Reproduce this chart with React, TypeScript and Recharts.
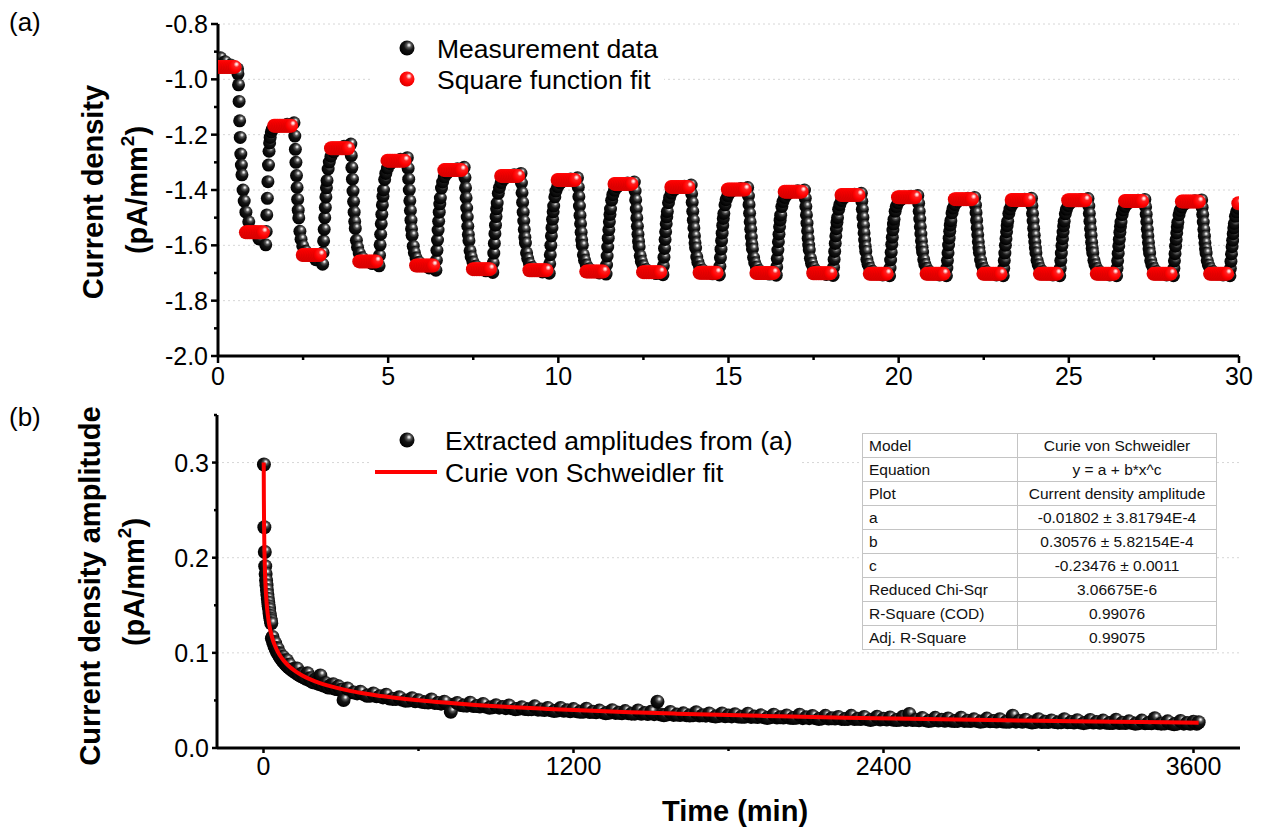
import React from "react";
import { CartesianGrid, ComposedChart, Scatter, XAxis, YAxis } from "recharts";

const FONT = "'Liberation Sans', Arial, Helvetica, sans-serif";

// ---------- panel (a): current density, square-wave excitation ----------
// start of every half period (min); the first one begins before t = 0
const segmentStart = [
  -0.26, 0.57, 1.4, 2.24, 3.07, 3.9, 4.73, 5.57, 6.4, 7.24, 8.07, 8.9, 9.73, 10.57, 11.4, 12.24, 13.07, 13.9, 14.73,
  15.57, 16.4, 17.24, 18.07, 18.9, 19.73, 20.57, 21.4, 22.24, 23.07, 23.9, 24.73, 25.57, 26.4, 27.24, 28.07, 28.9, 29.73,
];
// sample times inside a half period (s)
const sampleOffsets = [1, 2, 3, 4, 5, 6, 7, 8, 10, 12, 15, 20, 28, 38, 50];
// measured current density (pA/mm2), one row per half period
const measured: (number | null)[][] = [
  [null, null, null, null, null, null, null, null, null, null, null, -0.922, -0.936, -0.948, -0.962],
  [-0.98, -1.02, -1.08, -1.15, -1.21, -1.27, -1.31, -1.345, -1.4, -1.44, -1.48, -1.515, -1.55, -1.577, -1.598],
  [-1.55, -1.49, -1.43, -1.37, -1.31, -1.26, -1.23, -1.21, -1.19, -1.18, -1.174, -1.17, -1.167, -1.162, -1.157],
  [-1.205, -1.253, -1.3, -1.348, -1.391, -1.434, -1.473, -1.501, -1.549, -1.578, -1.602, -1.621, -1.635, -1.652, -1.668],
  [-1.626, -1.584, -1.542, -1.5, -1.463, -1.425, -1.392, -1.366, -1.324, -1.299, -1.278, -1.262, -1.249, -1.242, -1.234],
  [-1.276, -1.319, -1.361, -1.404, -1.442, -1.48, -1.514, -1.539, -1.582, -1.607, -1.628, -1.645, -1.658, -1.666, -1.674],
  [-1.636, -1.598, -1.56, -1.522, -1.488, -1.454, -1.423, -1.4, -1.362, -1.34, -1.321, -1.305, -1.294, -1.289, -1.283],
  [-1.322, -1.361, -1.4, -1.439, -1.474, -1.509, -1.54, -1.564, -1.603, -1.626, -1.646, -1.661, -1.673, -1.682, -1.69],
  [-1.654, -1.618, -1.581, -1.545, -1.513, -1.48, -1.451, -1.429, -1.393, -1.371, -1.353, -1.339, -1.328, -1.323, -1.318],
  [-1.355, -1.392, -1.428, -1.465, -1.498, -1.531, -1.561, -1.583, -1.62, -1.642, -1.66, -1.675, -1.686, -1.692, -1.698],
  [-1.663, -1.628, -1.593, -1.558, -1.527, -1.496, -1.468, -1.447, -1.412, -1.391, -1.373, -1.36, -1.349, -1.345, -1.34],
  [-1.375, -1.41, -1.445, -1.48, -1.512, -1.543, -1.571, -1.592, -1.627, -1.648, -1.666, -1.68, -1.69, -1.696, -1.701],
  [-1.667, -1.634, -1.6, -1.566, -1.536, -1.506, -1.479, -1.458, -1.425, -1.404, -1.388, -1.374, -1.364, -1.36, -1.356],
  [-1.39, -1.424, -1.458, -1.492, -1.522, -1.553, -1.58, -1.6, -1.634, -1.654, -1.671, -1.685, -1.695, -1.7, -1.704],
  [-1.671, -1.639, -1.606, -1.574, -1.544, -1.515, -1.489, -1.469, -1.437, -1.417, -1.401, -1.388, -1.378, -1.375, -1.371],
  [-1.404, -1.436, -1.469, -1.501, -1.531, -1.56, -1.586, -1.606, -1.638, -1.658, -1.674, -1.687, -1.697, -1.702, -1.706],
  [-1.674, -1.643, -1.611, -1.579, -1.551, -1.522, -1.497, -1.478, -1.446, -1.427, -1.411, -1.399, -1.389, -1.386, -1.382],
  [-1.414, -1.445, -1.477, -1.509, -1.537, -1.566, -1.591, -1.61, -1.642, -1.661, -1.677, -1.689, -1.699, -1.703, -1.707],
  [-1.676, -1.645, -1.614, -1.583, -1.556, -1.528, -1.503, -1.485, -1.454, -1.435, -1.42, -1.407, -1.398, -1.395, -1.391],
  [-1.422, -1.453, -1.484, -1.515, -1.542, -1.57, -1.595, -1.613, -1.644, -1.663, -1.678, -1.691, -1.7, -1.704, -1.708],
  [-1.678, -1.648, -1.617, -1.587, -1.56, -1.533, -1.509, -1.491, -1.46, -1.442, -1.427, -1.415, -1.406, -1.403, -1.4],
  [-1.43, -1.46, -1.49, -1.52, -1.548, -1.575, -1.599, -1.617, -1.647, -1.665, -1.68, -1.692, -1.701, -1.705, -1.709],
  [-1.68, -1.651, -1.622, -1.593, -1.566, -1.54, -1.517, -1.5, -1.47, -1.453, -1.438, -1.427, -1.418, -1.415, -1.412],
  [-1.441, -1.47, -1.499, -1.528, -1.555, -1.581, -1.604, -1.622, -1.651, -1.668, -1.683, -1.694, -1.703, -1.707, -1.71],
  [-1.682, -1.653, -1.625, -1.596, -1.571, -1.545, -1.523, -1.506, -1.477, -1.46, -1.446, -1.435, -1.426, -1.423, -1.42],
  [-1.448, -1.477, -1.505, -1.533, -1.559, -1.584, -1.607, -1.624, -1.652, -1.669, -1.683, -1.695, -1.703, -1.707, -1.71],
  [-1.682, -1.655, -1.627, -1.599, -1.574, -1.549, -1.527, -1.511, -1.483, -1.466, -1.452, -1.441, -1.433, -1.43, -1.427],
  [-1.455, -1.482, -1.51, -1.537, -1.562, -1.587, -1.609, -1.626, -1.653, -1.67, -1.684, -1.695, -1.703, -1.707, -1.71],
  [-1.683, -1.655, -1.628, -1.6, -1.576, -1.551, -1.529, -1.513, -1.485, -1.469, -1.455, -1.444, -1.436, -1.433, -1.43],
  [-1.457, -1.485, -1.512, -1.539, -1.564, -1.588, -1.61, -1.627, -1.654, -1.67, -1.684, -1.695, -1.703, -1.707, -1.71],
  [-1.683, -1.655, -1.628, -1.601, -1.576, -1.552, -1.53, -1.513, -1.486, -1.47, -1.456, -1.445, -1.437, -1.434, -1.431],
  [-1.458, -1.485, -1.513, -1.54, -1.564, -1.589, -1.611, -1.627, -1.654, -1.67, -1.684, -1.695, -1.703, -1.707, -1.71],
  [-1.683, -1.656, -1.629, -1.602, -1.578, -1.553, -1.532, -1.516, -1.489, -1.472, -1.459, -1.448, -1.44, -1.437, -1.434],
  [-1.461, -1.488, -1.515, -1.542, -1.566, -1.59, -1.612, -1.628, -1.655, -1.671, -1.684, -1.695, -1.703, -1.707, -1.71],
  [-1.683, -1.656, -1.63, -1.603, -1.579, -1.555, -1.533, -1.517, -1.49, -1.474, -1.461, -1.45, -1.442, -1.439, -1.436],
  [-1.463, -1.489, -1.516, -1.543, -1.567, -1.591, -1.612, -1.628, -1.655, -1.671, -1.684, -1.695, -1.703, -1.707, -1.71],
  [-1.684, -1.658, -1.631, -1.605, -1.582, -1.558, -1.537, -1.521, -1.495, -1.479, -1.466, null, null, null, null],
];
// square function fit: one level per half period, shown over its settled part
const fitOffsets = [15, 18, 21, 24, 27, 30, 33, 36, 39, 42, 45];
const fitLevels = [
  -0.955, -1.553, -1.168, -1.635, -1.249, -1.658, -1.294, -1.673, -1.328, -1.686, -1.349, -1.69, -1.364, -1.695, -1.378,
  -1.697, -1.389, -1.699, -1.398, -1.7, -1.406, -1.701, -1.418, -1.703, -1.426, -1.703, -1.433, -1.703, -1.436, -1.703,
  -1.437, -1.703, -1.44, -1.703, -1.442, -1.703, -1.448,
];
const xTicksA = [0, 2.5, 5, 7.5, 10, 12.5, 15, 17.5, 20, 22.5, 25, 27.5, 30];
const xMajorA = [0, 5, 10, 15, 20, 25, 30];
const yTicksA = [-2.0, -1.9, -1.8, -1.7, -1.6, -1.5, -1.4, -1.3, -1.2, -1.1, -1.0, -0.9, -0.8];
const yMajorA = [-2.0, -1.8, -1.6, -1.4, -1.2, -1.0, -0.8];

// ---------- panel (b): extracted amplitudes over 3600 min ----------
const amplitudes: [number, number][] = [
  [1.67, 0.298], [3.33, 0.232], [5, 0.206], [6.67, 0.191], [8.33, 0.183], [10, 0.176], [11.67, 0.171], [13.33, 0.166],
  [15, 0.161], [16.67, 0.157], [18.33, 0.153], [20, 0.149], [21.67, 0.146], [23.33, 0.142], [25, 0.139], [26.67, 0.136],
  [28.33, 0.134], [30, 0.131], [35, 0.1167], [40, 0.1116], [45, 0.1101], [50, 0.105], [55, 0.1043], [60, 0.0999],
  [65, 0.0987], [70, 0.0938], [75, 0.096], [80, 0.0923], [85, 0.0917], [90, 0.0923], [95, 0.086], [100, 0.0877],
  [110, 0.0824], [120, 0.0833], [130, 0.0835], [140, 0.0768], [150, 0.0783], [160, 0.0739], [170, 0.0785], [180, 0.0733],
  [190, 0.0692], [200, 0.0721], [210, 0.0701], [220, 0.0762], [230, 0.0663], [240, 0.0684], [250, 0.0636], [260, 0.0659],
  [270, 0.0671], [280, 0.0624], [290, 0.0648], [300, 0.0611], [310, 0.0505], [325, 0.0626], [350, 0.0584], [375, 0.0591],
  [400, 0.0549], [425, 0.0574], [450, 0.0545], [475, 0.056], [500, 0.0516], [525, 0.0533], [550, 0.0496], [575, 0.0523],
  [600, 0.0501], [625, 0.048], [650, 0.0509], [675, 0.0473], [700, 0.0487], [725, 0.038], [750, 0.0472], [775, 0.0446],
  [800, 0.0476], [825, 0.0442], [850, 0.0463], [875, 0.0423], [900, 0.0449], [925, 0.043], [950, 0.0446], [975, 0.0408],
  [1000, 0.0429], [1025, 0.0406], [1050, 0.0438], [1075, 0.0404], [1100, 0.0421], [1125, 0.0388], [1150, 0.042],
  [1175, 0.0397], [1200, 0.0409], [1225, 0.0381], [1250, 0.0413], [1275, 0.0381], [1300, 0.0393], [1325, 0.0366],
  [1350, 0.0398], [1375, 0.0371], [1400, 0.0388], [1425, 0.0361], [1450, 0.0394], [1475, 0.0367], [1500, 0.038],
  [1525, 0.0487], [1550, 0.0345], [1575, 0.0378], [1600, 0.0351], [1625, 0.0364], [1650, 0.0342], [1675, 0.0375],
  [1700, 0.0344], [1725, 0.0362], [1750, 0.033], [1775, 0.0363], [1800, 0.0341], [1825, 0.0354], [1850, 0.0328],
  [1875, 0.0361], [1900, 0.033], [1925, 0.0343], [1950, 0.0316], [1975, 0.035], [2000, 0.0323], [2025, 0.0342],
  [2050, 0.0315], [2075, 0.0349], [2100, 0.0322], [2125, 0.0336], [2150, 0.0305], [2175, 0.0338], [2200, 0.0312],
  [2225, 0.0326], [2250, 0.0304], [2275, 0.0338], [2300, 0.0307], [2325, 0.0326], [2350, 0.0294], [2375, 0.0328],
  [2400, 0.0307], [2425, 0.0321], [2450, 0.0295], [2475, 0.0328], [2500, 0.0357], [2525, 0.0296], [2550, 0.0315],
  [2575, 0.0284], [2600, 0.0317], [2625, 0.0296], [2650, 0.031], [2675, 0.0284], [2700, 0.0318], [2725, 0.0287],
  [2750, 0.0301], [2775, 0.0275], [2800, 0.0309], [2825, 0.0283], [2850, 0.0302], [2875, 0.0276], [2900, 0.034],
  [2925, 0.0284], [2950, 0.0298], [2975, 0.0268], [3000, 0.0302], [3025, 0.0276], [3050, 0.029], [3075, 0.0269],
  [3100, 0.0303], [3125, 0.0272], [3150, 0.0292], [3175, 0.0261], [3200, 0.0295], [3225, 0.0274], [3250, 0.0288],
  [3275, 0.0262], [3300, 0.0297], [3325, 0.0266], [3350, 0.028], [3375, 0.0254], [3400, 0.0288], [3425, 0.0263],
  [3450, 0.0312], [3475, 0.0256], [3500, 0.028], [3525, 0.0249], [3550, 0.0284], [3575, 0.0263], [3600, 0.0277],
  [3620, 0.0271],
];
// the lower edge of the dense amplitude band
const amplitudesLower: [number, number][] = [
  [32.5, 0.1152], [37.5, 0.1108], [42.5, 0.107], [47.5, 0.1038], [52.5, 0.1008], [57.5, 0.0985], [62.5, 0.0962],
  [67.5, 0.0944], [72.5, 0.0922], [77.5, 0.0906], [82.5, 0.0889], [87.5, 0.0874], [92.5, 0.0861], [97.5, 0.0848],
  [105, 0.083], [115, 0.0808], [125, 0.0791], [135, 0.0772], [145, 0.0755], [155, 0.0744], [165, 0.0727], [175, 0.0716],
  [185, 0.0703], [195, 0.0693], [205, 0.0683], [215, 0.0672], [225, 0.0664], [235, 0.0655], [245, 0.0647], [255, 0.0639],
  [265, 0.0632], [275, 0.0624], [285, 0.0619], [295, 0.0611], [305, 0.0606], [315, 0.0599], [337.5, 0.0585],
  [362.5, 0.0574], [387.5, 0.0566], [412.5, 0.0549], [437.5, 0.0543], [462.5, 0.0532], [487.5, 0.0521], [512.5, 0.0515],
  [537.5, 0.0506], [562.5, 0.0499], [587.5, 0.0491], [612.5, 0.0486], [637.5, 0.0478], [662.5, 0.0474], [687.5, 0.0466],
  [712.5, 0.0462], [737.5, 0.0456], [762.5, 0.0452], [787.5, 0.0445], [812.5, 0.0441], [837.5, 0.0436], [862.5, 0.0433],
  [887.5, 0.0427], [912.5, 0.0424], [937.5, 0.0419], [962.5, 0.0417], [987.5, 0.0412], [1012.5, 0.041], [1037.5, 0.0406],
  [1062.5, 0.0403], [1087.5, 0.0399], [1112.5, 0.0397], [1137.5, 0.0393], [1162.5, 0.0391], [1187.5, 0.0387],
  [1212.5, 0.0385], [1237.5, 0.0381], [1262.5, 0.0379], [1287.5, 0.0376], [1312.5, 0.0374], [1337.5, 0.0371],
  [1362.5, 0.0369], [1387.5, 0.0366], [1412.5, 0.0364], [1437.5, 0.0361], [1462.5, 0.036], [1487.5, 0.0357],
  [1512.5, 0.0356], [1537.5, 0.0352], [1562.5, 0.0351], [1587.5, 0.0348], [1612.5, 0.0347], [1637.5, 0.0344],
  [1662.5, 0.0343], [1687.5, 0.0341], [1712.5, 0.034], [1737.5, 0.0337], [1762.5, 0.0336], [1787.5, 0.0333],
  [1812.5, 0.0332], [1837.5, 0.033], [1862.5, 0.0329], [1887.5, 0.0327], [1912.5, 0.0326], [1937.5, 0.0323],
  [1962.5, 0.0323], [1987.5, 0.032], [2012.5, 0.032], [2037.5, 0.0317], [2062.5, 0.0317], [2087.5, 0.0314],
  [2112.5, 0.0314], [2137.5, 0.0312], [2162.5, 0.0311], [2187.5, 0.0309], [2212.5, 0.0309], [2237.5, 0.0306],
  [2262.5, 0.0306], [2287.5, 0.0304], [2312.5, 0.0304], [2337.5, 0.0301], [2362.5, 0.0301], [2387.5, 0.0299],
  [2412.5, 0.0299], [2437.5, 0.0297], [2462.5, 0.0296], [2487.5, 0.0294], [2512.5, 0.0294], [2537.5, 0.0292],
  [2562.5, 0.0292], [2587.5, 0.0289], [2612.5, 0.0289], [2637.5, 0.0287], [2662.5, 0.0287], [2687.5, 0.0285],
  [2712.5, 0.0285], [2737.5, 0.0283], [2762.5, 0.0283], [2787.5, 0.0281], [2812.5, 0.0281], [2837.5, 0.0279],
  [2862.5, 0.0279], [2887.5, 0.0277], [2912.5, 0.0277], [2937.5, 0.0275], [2962.5, 0.0275], [2987.5, 0.0274],
  [3012.5, 0.0274], [3037.5, 0.0272], [3062.5, 0.0272], [3087.5, 0.027], [3112.5, 0.027], [3137.5, 0.0268],
  [3162.5, 0.0268], [3187.5, 0.0267], [3212.5, 0.0267], [3237.5, 0.0265], [3262.5, 0.0265], [3287.5, 0.0263],
  [3312.5, 0.0263], [3337.5, 0.0262], [3362.5, 0.0262], [3387.5, 0.026], [3412.5, 0.026], [3437.5, 0.0259],
  [3462.5, 0.0259], [3487.5, 0.0257], [3512.5, 0.0257], [3537.5, 0.0256], [3562.5, 0.0256], [3587.5, 0.0254],
  [3612.5, 0.0254],
];
// Curie von Schweidler fit curve
const fitCurve: [number, number][] = [
  [0.85, 0.3], [1, 0.2877], [1.5, 0.26], [2, 0.2418], [3, 0.2182], [4, 0.2028], [5, 0.1915], [6.5, 0.179], [8, 0.1696],
  [10, 0.1601], [12, 0.1526], [15, 0.1439], [20, 0.1333], [25, 0.1256], [30, 0.1196], [38, 0.1121], [45, 0.1071],
  [55, 0.1013], [65, 0.0967], [80, 0.0913], [95, 0.087], [110, 0.0834], [130, 0.0795], [150, 0.0763], [175, 0.0729],
  [200, 0.0701], [240, 0.0664], [280, 0.0634], [330, 0.0603], [380, 0.0578], [440, 0.0552], [500, 0.0531], [600, 0.0501],
  [700, 0.0477], [820, 0.0453], [950, 0.0431], [1100, 0.0411], [1250, 0.0393], [1420, 0.0376], [1600, 0.0361],
  [1800, 0.0346], [2000, 0.0333], [2250, 0.0319], [2500, 0.0307], [2750, 0.0296], [3000, 0.0287], [3300, 0.0276],
  [3620, 0.0266],
];
const xTicksB = [0, 600, 1200, 1800, 2400, 3000, 3600];
const xMajorB = [0, 1200, 2400, 3600];
const yTicksB = [0, 0.05, 0.1, 0.15, 0.2, 0.25, 0.3, 0.35];
const yMajorB = [0, 0.1, 0.2, 0.3];

const fitTable = [
  ["Model", "Curie von Schweidler"],
  ["Equation", "y = a + b*x^c"],
  ["Plot", "Current density amplitude"],
  ["a", "-0.01802 ± 3.81794E-4"],
  ["b", "0.30576 ± 5.82154E-4"],
  ["c", "-0.23476 ± 0.0011"],
  ["Reduced Chi-Sqr", "3.06675E-6"],
  ["R-Square (COD)", "0.99076"],
  ["Adj. R-Square", "0.99075"],
];

const measurePts = segmentStart
  .flatMap((s, i) => sampleOffsets.map((o, j) => ({ t: s + o / 60, v: measured[i][j] })))
  .filter((p) => p.v !== null && p.t >= 0 && p.t <= 30);
const fitPts = segmentStart
  .flatMap((s, i) => fitOffsets.map((o) => ({ t: s + o / 60, v: fitLevels[i] })))
  .filter((p) => p.t >= 0 && p.t <= 30);
const ampPts = [...amplitudesLower, ...amplitudes].map(([t, v]) => ({ t, v }));
const fitCurvePts = fitCurve.map(([t, v]) => ({ t, v }));

type Side = "bottom" | "top" | "left" | "right";

function axisTick(side: Side, majors: number[], fmt: ((v: number) => string) | null, big: number, small: number) {
  return (p: any) => {
    const v = Number(p.payload.value);
    const isMajor = majors.some((m) => Math.abs(m - v) < 1e-6);
    const len = isMajor ? big : small;
    const { x, y } = p;
    const dx = side === "left" ? -len : side === "right" ? len : 0;
    const dy = side === "bottom" ? len : side === "top" ? -len : 0;
    let label = null;
    if (fmt && isMajor && side === "bottom") {
      label = (
        <text x={x} y={y + big + 4} dy="0.72em" textAnchor="middle" fontSize={25} fontFamily={FONT} fill="#000">
          {fmt(v)}
        </text>
      );
    }
    if (fmt && isMajor && side === "left") {
      label = (
        <text x={x - big - 3} y={y} dy="0.36em" textAnchor="end" fontSize={25} fontFamily={FONT} fill="#000">
          {fmt(v)}
        </text>
      );
    }
    return (
      <g>
        <line x1={x} y1={y} x2={x + dx} y2={y + dy} stroke="#000" strokeWidth={2.5} />
        {label}
      </g>
    );
  };
}

const blackDot = (r: number) => (p: any) => <circle cx={p.cx} cy={p.cy} r={r} fill="url(#sphereBlack)" />;
const redDot = (p: any) => <circle cx={p.cx} cy={p.cy} r={7} fill="url(#sphereRed)" />;
const noDot = () => <g />;

function SphereDefs({ suffix = "" }: { suffix?: string }) {
  return (
    <defs>
      <radialGradient id={"sphereBlack" + suffix} cx="60%" cy="38%" r="62%" fx="64%" fy="30%">
        <stop offset="0%" stopColor="#ffffff" />
        <stop offset="10%" stopColor="#d0d0d0" />
        <stop offset="26%" stopColor="#5a5a5a" />
        <stop offset="52%" stopColor="#141414" />
        <stop offset="100%" stopColor="#000000" />
      </radialGradient>
      <radialGradient id={"sphereRed" + suffix} cx="60%" cy="38%" r="62%" fx="64%" fy="30%">
        <stop offset="0%" stopColor="#ffffff" />
        <stop offset="12%" stopColor="#ffc8c8" />
        <stop offset="32%" stopColor="#ff2020" />
        <stop offset="70%" stopColor="#ff0000" />
        <stop offset="100%" stopColor="#d80000" />
      </radialGradient>
    </defs>
  );
}

const axisLine = { stroke: "#000", strokeWidth: 3 };

function PanelA() {
  return (
    <ComposedChart width={1261} height={400} margin={{ top: 24, right: 22, bottom: 4, left: 158 }}>
      <SphereDefs />
      <CartesianGrid vertical={false} horizontalValues={yMajorA} stroke="#d6d6d6" strokeDasharray="2 3" />
      <XAxis
        dataKey="t" type="number" domain={[0, 30]} ticks={xTicksA} interval={0} allowDataOverflow
        height={40} tickSize={0} tickMargin={0} tickLine={false} axisLine={axisLine}
        tick={axisTick("bottom", xMajorA, (v) => String(v), 7, 4)}
      />
      <XAxis
        xAxisId="top" orientation="top" type="number" domain={[0, 30]} ticks={xTicksA} interval={0} allowDataOverflow
        height={0} tickSize={0} tickMargin={0} tickLine={false} axisLine={axisLine}
        tick={axisTick("top", xMajorA, null, 7, 4)}
      />
      <YAxis
        dataKey="v" type="number" domain={[-2, -0.8]} ticks={yTicksA} interval={0} allowDataOverflow
        width={60} tickSize={0} tickMargin={0} tickLine={false} axisLine={axisLine}
        tick={axisTick("left", yMajorA, (v) => v.toFixed(1), 7, 4)}
      />
      <YAxis
        yAxisId="right" orientation="right" type="number" domain={[-2, -0.8]} ticks={yTicksA} interval={0}
        allowDataOverflow width={0} tickSize={0} tickMargin={0} tickLine={false} axisLine={axisLine}
        tick={axisTick("right", yMajorA, null, 7, 4)}
      />
      <Scatter data={measurePts} shape={blackDot(6.5)} isAnimationActive={false} />
      <Scatter data={fitPts} shape={redDot} isAnimationActive={false} />
    </ComposedChart>
  );
}

function PanelB() {
  return (
    <ComposedChart width={1261} height={429} margin={{ top: 15, right: 21, bottom: 41, left: 157 }}>
      <SphereDefs />
      <CartesianGrid vertical={false} horizontalValues={yMajorB} stroke="#d6d6d6" strokeDasharray="2 3" />
      <XAxis
        dataKey="t" type="number" domain={[-180, 3780]} ticks={xTicksB} interval={0} allowDataOverflow
        height={40} tickSize={0} tickMargin={0} tickLine={false} axisLine={axisLine}
        tick={axisTick("bottom", xMajorB, (v) => String(v), 5, 3)}
      />
      <XAxis
        xAxisId="top" orientation="top" type="number" domain={[-180, 3780]} ticks={xTicksB} interval={0}
        allowDataOverflow height={0} tickSize={0} tickMargin={0} tickLine={false} axisLine={axisLine}
        tick={axisTick("top", xMajorB, null, 5, 3)}
      />
      <YAxis
        dataKey="v" type="number" domain={[0, 0.35]} ticks={yTicksB} interval={0} allowDataOverflow
        width={60} tickSize={0} tickMargin={0} tickLine={false} axisLine={axisLine}
        tick={axisTick("left", yMajorB, (v) => v.toFixed(1), 5, 3)}
      />
      <YAxis
        yAxisId="right" orientation="right" type="number" domain={[0, 0.35]} ticks={yTicksB} interval={0}
        allowDataOverflow width={0} tickSize={0} tickMargin={0} tickLine={false} axisLine={axisLine}
        tick={axisTick("right", yMajorB, null, 5, 3)}
      />
      <Scatter data={ampPts} shape={blackDot(7)} isAnimationActive={false} />
      <Scatter
        data={fitCurvePts} shape={noDot} line={{ stroke: "#ff0000", strokeWidth: 4 }} lineType="joint"
        lineJointType="monotoneX" isAnimationActive={false}
      />
    </ComposedChart>
  );
}

function Overlay() {
  const title = { fontFamily: FONT, fontWeight: 700, fontSize: 29, fill: "#000" } as const;
  const leg = { fontFamily: FONT, fontSize: 26.5, fill: "#000" } as const;
  return (
    <svg width={1261} height={829} style={{ position: "absolute", left: 0, top: 0, pointerEvents: "none" }}>
      <SphereDefs suffix="L" />
      <text x={9} y={31} fontFamily={FONT} fontSize={26}>(a)</text>
      <text x={9} y={426} fontFamily={FONT} fontSize={26}>(b)</text>

      <text transform="translate(93,192) rotate(-90)" textAnchor="middle" dominantBaseline="central" {...title}>
        Current density
      </text>
      <text transform="translate(137,190) rotate(-90)" textAnchor="middle" dominantBaseline="central" {...title}>
        (pA/mm<tspan dy={-10} fontSize={19}>2</tspan><tspan dy={10}>)</tspan>
      </text>
      <text transform="translate(90,586) rotate(-90)" textAnchor="middle" dominantBaseline="central" {...title}>
        Current density amplitude
      </text>
      <text transform="translate(134,582) rotate(-90)" textAnchor="middle" dominantBaseline="central" {...title}>
        (pA/mm<tspan dy={-10} fontSize={19}>2</tspan><tspan dy={10}>)</tspan>
      </text>
      <text x={735} y={821} textAnchor="middle" {...title}>Time (min)</text>

      <rect x={372} y={28} width={292} height={68} fill="#fff" />
      <circle cx={407} cy={48} r={7.5} fill="url(#sphereBlackL)" />
      <circle cx={407} cy={79} r={7.5} fill="url(#sphereRedL)" />
      <text x={437} y={48} dy="0.36em" {...leg}>Measurement data</text>
      <text x={437} y={79} dy="0.36em" {...leg}>Square function fit</text>

      <rect x={370} y={422} width={432} height={66} fill="#fff" />
      <circle cx={407} cy={440} r={7.5} fill="url(#sphereBlackL)" />
      <line x1={375} y1={472} x2={437} y2={472} stroke="#ff0000" strokeWidth={4} />
      <text x={445} y={440} dy="0.36em" {...leg}>Extracted amplitudes from (a)</text>
      <text x={445} y={472} dy="0.36em" {...leg}>Curie von Schweidler fit</text>
    </svg>
  );
}

function FitTable() {
  return (
    <table
      style={{
        position: "absolute", left: 862, top: 433, width: 354, height: 217, borderCollapse: "collapse",
        tableLayout: "fixed", background: "#fff", border: "1.5px solid #7a7a7a",
        fontFamily: FONT, fontSize: 15.5, color: "#111",
      }}
    >
      <colgroup>
        <col style={{ width: 155 }} />
        <col style={{ width: 199 }} />
      </colgroup>
      <tbody>
        {fitTable.map(([k, v]) => (
          <tr key={k} style={{ height: 24 }}>
            <td style={{ border: "1px solid #c4c4c4", padding: "0 6px", whiteSpace: "nowrap" }}>{k}</td>
            <td style={{ border: "1px solid #c4c4c4", padding: 0, textAlign: "center", whiteSpace: "nowrap" }}>{v}</td>
          </tr>
        ))}
      </tbody>
    </table>
  );
}

export default function App() {
  return (
    <div style={{ position: "absolute", left: 0, top: 0, width: 1261, height: 829, background: "#fff" }}>
      <div style={{ position: "absolute", left: 0, top: 0 }}>
        <PanelA />
      </div>
      <div style={{ position: "absolute", left: 0, top: 400 }}>
        <PanelB />
      </div>
      <Overlay />
      <FitTable />
    </div>
  );
}
